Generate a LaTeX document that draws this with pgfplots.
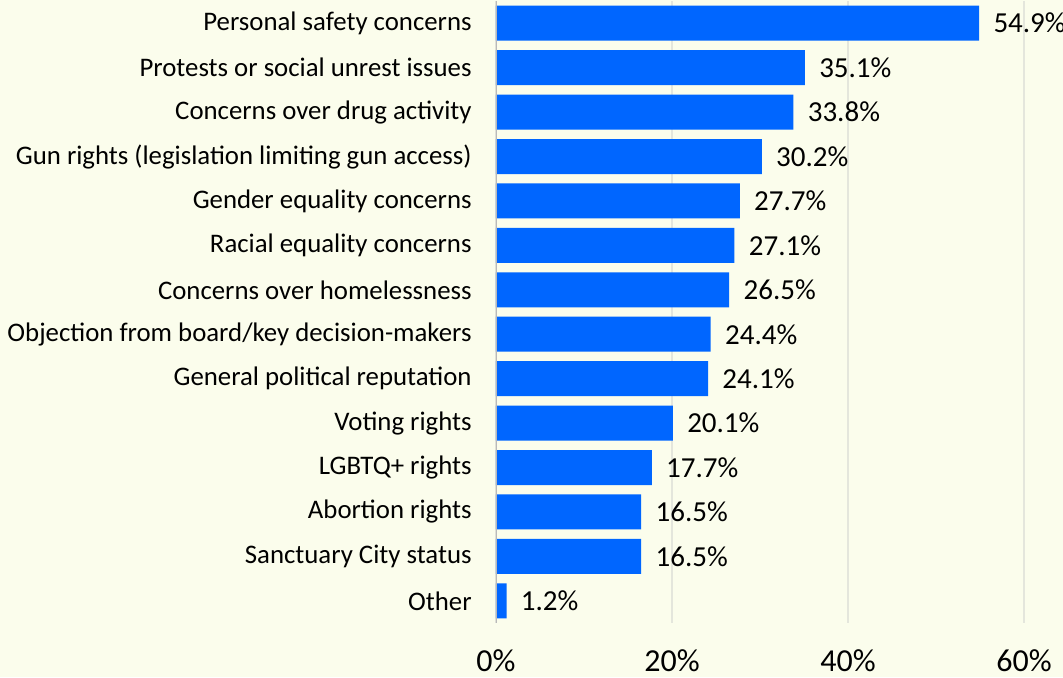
\documentclass[border=0pt]{standalone}
\usepackage{pgfplots}
\pgfplotsset{compat=1.18}
\usepackage{fontspec}
\setmainfont{Carlito}
\definecolor{bgc}{RGB}{251,253,236}
\definecolor{barc}{RGB}{0,102,255}
\definecolor{gridc}{RGB}{228,230,220}
\begin{document}
\begin{tikzpicture}
\fill[bgc] (-248pt,-27pt) rectangle (283.5pt,311.5pt);
\begin{axis}[
  at={(0,0)}, anchor=south west,
  scale only axis,
  width=264pt, height=311pt,
  xbar, bar width=17.5pt,
  xmin=0, xmax=60,
  ymin=-0.5, ymax=13.5,
  y dir=reverse,
  axis line style={draw=none},
  major tick length=0pt,
  xtick={0,20,40,60},
  xticklabel={\pgfmathprintnumber{\tick}\%},
  xmajorgrids, grid style={gridc, line width=0.8pt},
  ytick={0,...,13},
  yticklabels={Personal safety concerns,Protests or social unrest issues,Concerns over drug activity,Gun rights (legislation limiting gun access),Gender equality concerns,Racial equality concerns,Concerns over homelessness,Objection from board/key decision-makers,General political reputation,Voting rights,LGBTQ+ rights,Abortion rights,Sanctuary City status,Other},
  y tick label style={font=\fontsize{13.4}{15}\selectfont, anchor=east, inner sep=0pt, xshift=-12pt},
  x tick label style={font=\fontsize{16}{18}\selectfont, anchor=north, inner sep=0pt, yshift=-13pt},
  /pgf/number format/assume math mode=true,
  point meta=x,
  nodes near coords={\pgfmathprintnumber[fixed,fixed zerofill,precision=1]{\pgfplotspointmeta}\%},
  nodes near coords style={font=\fontsize{14.5}{16}\selectfont, anchor=west, inner sep=0pt, xshift=7pt},
]
\addplot[fill=barc, draw=none] coordinates {
(54.9,0) (35.1,1) (33.8,2) (30.2,3) (27.7,4) (27.1,5) (26.5,6) (24.4,7) (24.1,8) (20.1,9) (17.7,10) (16.5,11) (16.5,12) (1.2,13)
};
\draw[gray!55, line width=0.8pt] (axis cs:0,-0.5) -- (axis cs:0,13.5);
\end{axis}
\pgfresetboundingbox
\path[use as bounding box] (-248pt,-27pt) rectangle (283.5pt,311.5pt);
\end{tikzpicture}
\end{document}
